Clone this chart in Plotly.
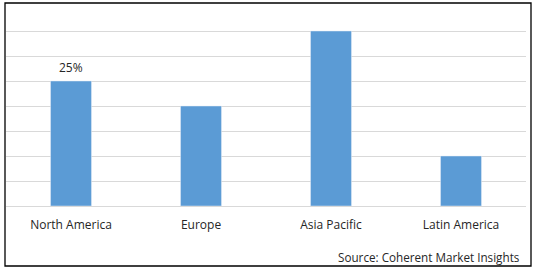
import plotly.graph_objects as go

categories = ["North America", "Europe", "Asia Pacific", "Latin America"]
values = [25, 20, 35, 10]
labelled = [True, False, False, False]
source = "Source: Coherent Market Insights"

W, H = 538, 272
ml, mr, mt, mb = 6, 12, 6, 66
pw, ph = W - ml - mr, H - mt - mb

def px(x):
    return (x - ml) / pw

def py(y):
    return (H - mb - y) / ph

fig = go.Figure(go.Bar(
    x=categories, y=values, marker_color="#5b9bd5", width=0.315,
))

annotations = [
    dict(text=f"{v}%", xref="x", yref="y", x=c, y=v, yshift=3,
         xanchor="center", yanchor="bottom", showarrow=False,
         font=dict(size=12, color="#262626"))
    for c, v, show in zip(categories, values, labelled) if show
]
annotations.append(
    dict(text=source, xref="paper", yref="paper", x=px(522), y=py(257),
         xanchor="right", yanchor="middle", showarrow=False,
         font=dict(size=11.7, color="#262626")))

fig.update_layout(
    width=W, height=H, margin=dict(l=ml, r=mr, t=mt, b=mb),
    paper_bgcolor="white", plot_bgcolor="white", showlegend=False,
    font=dict(family="Open Sans", size=12, color="#262626"),
    xaxis=dict(showgrid=False, showline=False, ticks="", ticklabelstandoff=10,
               tickfont=dict(size=12, color="#262626")),
    yaxis=dict(range=[0, 40], dtick=5, showgrid=True, gridcolor="#d9d9d9", gridwidth=1,
               showticklabels=False, zeroline=True, zerolinecolor="#d9d9d9", zerolinewidth=1,
               showline=False),
    shapes=[dict(type="rect", xref="paper", yref="paper",
                 x0=px(5), x1=px(531), y0=py(266), y1=py(3),
                 line=dict(color="black", width=1.3))],
    annotations=annotations,
)

fig.write_html("out.html")
